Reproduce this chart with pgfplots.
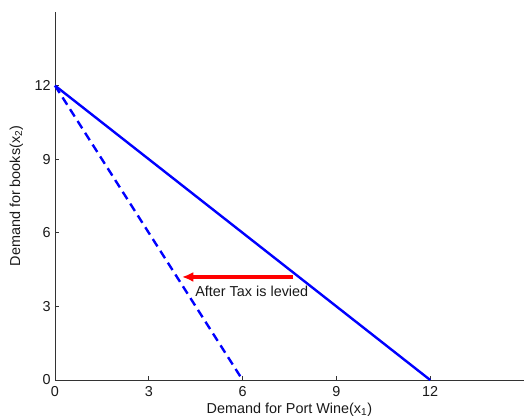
\documentclass[border=0pt]{standalone}
\usepackage{fontspec}
\setmainfont{Liberation Sans}
\usepackage{pgfplots}
\pgfplotsset{compat=1.18}
\usetikzlibrary{arrows.meta}

\newcommand{\lblfont}{\fontsize{10.8}{12}\selectfont}

\begin{document}
\begin{tikzpicture}
\begin{axis}[
  scale only axis,
  width=351.75pt, height=276pt,
  xmin=0, xmax=15, ymin=0, ymax=15,
  axis lines*=left,
  axis line style={black!80, line width=0.75pt},
  xtick={0,3,6,9,12}, ytick={0,3,6,9,12},
  tick align=inside, major tick length=3pt,
  tick style={black!80, line width=0.6pt},
  ticklabel style={font=\lblfont, text=black!90, inner sep=0pt},
  /pgf/number format/assume math mode=true,
  xticklabel style={anchor=north, yshift=-4.5pt},
  yticklabel style={anchor=east, xshift=-3pt},
  xlabel={Demand for Port Wine(x\textsubscript{1})},
  ylabel={Demand for books(x\textsubscript{2})},
  label style={font=\lblfont, text=black!90, inner sep=0pt},
  xlabel style={at={(axis description cs:0.5,0)}, anchor=base, yshift=-25pt},
  ylabel style={at={(axis description cs:-0.0746,0.5)}, anchor=base},
  clip=false,
]
\addplot[blue, line width=1.8pt] coordinates {(0,12) (12,0)};
\addplot[blue, line width=1.8pt, dash pattern=on 6.5pt off 4pt] coordinates {(0,12) (6,0)};
\addplot[red, line width=3pt, -{Latex[length=8.5pt, width=7.5pt]}] coordinates {(7.62,4.2) (4.06,4.2)};
\node[anchor=base west, font=\lblfont, text=black!90, inner sep=0pt] at (axis cs:4.48,3.39) {After Tax is levied};
\end{axis}
\pgfresetboundingbox
\path[use as bounding box] (current axis.south west) ++(-41.25pt,-28.5pt) rectangle ++(393pt,313.5pt);
\end{tikzpicture}
\end{document}
